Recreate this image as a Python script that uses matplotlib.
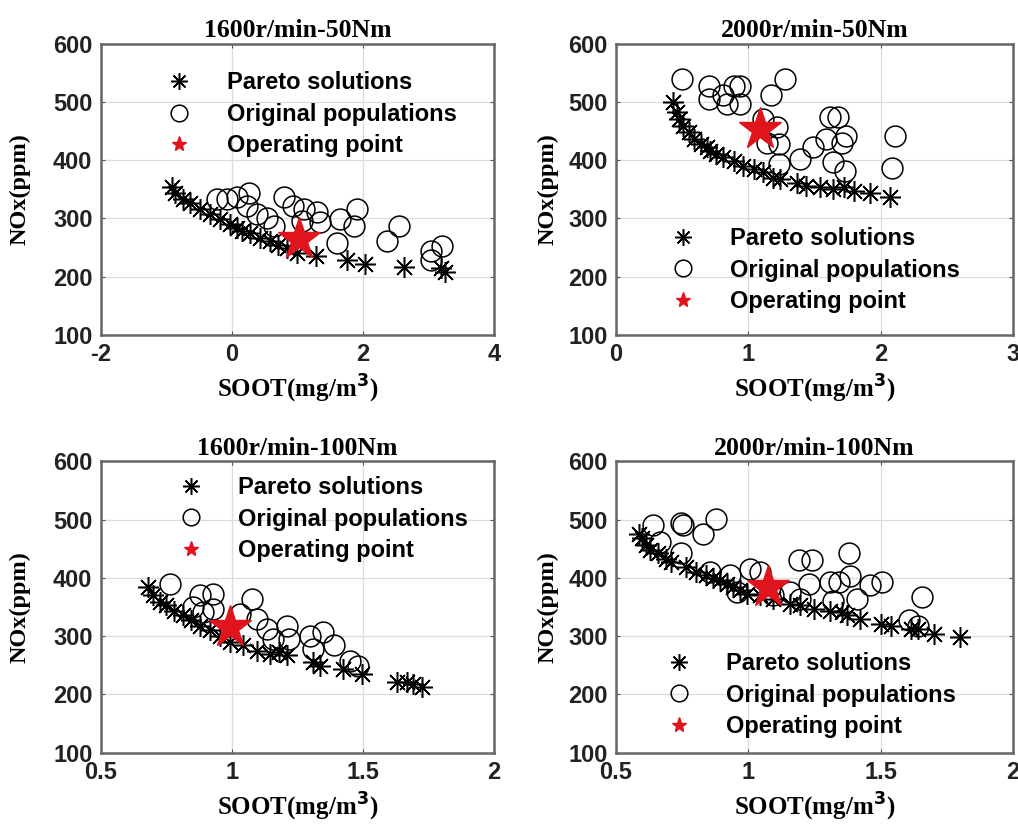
import numpy as np
import matplotlib.pyplot as plt
from matplotlib.lines import Line2D

# ---- data ----
titles = ['1600r/min-50Nm', '2000r/min-50Nm', '1600r/min-100Nm', '2000r/min-100Nm']

# 1600r/min-50Nm
p1_x = [-0.92, -0.87, -0.74, -0.64, -0.48, -0.33, -0.18, -0.03, 0.08, 0.15, 0.28, 0.43,
        0.59, 0.71, 0.84, 0.99, 1.28, 1.76, 2.04, 2.63, 3.20, 3.25]
p1_y = [353, 344, 333, 327, 316, 307, 298, 290, 284, 278, 275, 267,
        261, 255, 249, 241, 235, 229, 221, 217, 214, 208]
o1_x = [-0.23, -0.08, 0.08, 0.26, 0.23, 0.38, 0.54, 0.79, 0.94, 1.10, 1.30, 1.35,
        1.07, 0.64, 1.66, 1.91, 1.86, 1.61, 2.37, 2.55, 3.04, 3.21, 3.04]
o1_y = [333, 333, 336, 344, 321, 307, 301, 336, 321, 316, 310, 293,
        295, 287, 298, 316, 287, 258, 261, 287, 244, 252, 229]
op1 = (1.02, 264)

# 2000r/min-50Nm
p2_x = [0.43, 0.46, 0.48, 0.51, 0.55, 0.59, 0.64, 0.69, 0.71, 0.76, 0.81, 0.89, 0.96,
        1.04, 1.11, 1.19, 1.24, 1.37, 1.44, 1.54, 1.64, 1.72, 1.80, 1.92, 2.07]
p2_y = [499, 482, 471, 459, 448, 436, 428, 422, 416, 410, 405, 399, 390,
        384, 379, 370, 367, 361, 356, 353, 350, 353, 347, 344, 336]
o2_x = [0.50, 0.70, 0.70, 0.81, 0.89, 0.94, 0.84, 0.94, 1.17, 1.28, 1.11, 1.22, 1.14,
        1.23, 1.23, 1.39, 1.49, 1.59, 1.62, 1.68, 1.64, 1.71, 1.74, 1.73, 2.11, 2.09]
o2_y = [540, 528, 505, 511, 528, 528, 497, 497, 511, 540, 471, 456, 430,
        428, 393, 402, 422, 436, 474, 474, 396, 430, 442, 382, 442, 387]
op2 = (1.09, 453)

# 1600r/min-100Nm
p3_x = [0.68, 0.70, 0.725, 0.75, 0.78, 0.815, 0.846, 0.878, 0.917, 0.955, 0.993, 1.044,
        1.095, 1.146, 1.18, 1.21, 1.31, 1.337, 1.426, 1.496, 1.63, 1.668, 1.69, 1.725]
p3_y = [384, 370, 359, 353, 344, 336, 327, 318, 310, 301, 290, 284,
        275, 270, 272, 267, 255, 249, 244, 235, 221, 221, 218, 212]
o3_x = [0.764, 0.878, 0.929, 0.853, 0.891, 1.076, 1.031, 1.095, 1.133, 1.159, 1.21, 1.22,
        1.30, 1.35, 1.39, 1.31, 1.45, 1.48, 0.93]
o3_y = [390, 370, 373, 350, 341, 364, 338, 330, 313, 295, 318, 295,
        301, 307, 284, 278, 258, 249, 347]
op3 = (0.993, 316)

# 2000r/min-100Nm
p4_x = [0.589, 0.60, 0.614, 0.627, 0.658, 0.69, 0.709, 0.766, 0.804, 0.842, 0.867, 0.892,
        0.918, 0.943, 0.968, 0.994, 1.044, 1.095, 1.158, 1.196, 1.247, 1.31, 1.354, 1.373,
        1.424, 1.50, 1.538, 1.614, 1.64, 1.70, 1.80]
p4_y = [476, 468, 456, 448, 442, 433, 428, 419, 410, 405, 399, 396,
        390, 384, 379, 373, 370, 364, 356, 353, 347, 344, 341, 336,
        330, 321, 318, 313, 313, 304, 298]
o4_x = [0.639, 0.665, 0.747, 0.753, 0.829, 0.88, 0.747, 0.854, 0.93, 1.006, 1.044, 1.095,
        1.19, 1.24, 1.228, 1.158, 1.196, 1.31, 1.342, 1.32, 1.38, 1.386, 1.41, 1.46,
        1.506, 1.658, 1.608, 1.64, 0.956]
o4_y = [491, 462, 494, 491, 476, 502, 442, 410, 405, 416, 410, 370,
        430, 430, 390, 376, 364, 393, 393, 361, 442, 404, 364, 387,
        393, 367, 327, 318, 376]
op4 = (1.076, 385)

pareto_x = [p1_x, p2_x, p3_x, p4_x]
pareto_y = [p1_y, p2_y, p3_y, p4_y]
orig_x = [o1_x, o2_x, o3_x, o4_x]
orig_y = [o1_y, o2_y, o3_y, o4_y]
op_pts = [op1, op2, op3, op4]

xlims = [(-2, 4), (0, 3), (0.5, 2), (0.5, 2)]
xticks = [[-2, 0, 2, 4], [0, 1, 2, 3], [0.5, 1, 1.5, 2], [0.5, 1, 1.5, 2]]
xticklabels = [['-2', '0', '2', '4'], ['0', '1', '2', '3'],
               ['0.5', '1', '1.5', '2'], ['0.5', '1', '1.5', '2']]

# axes rectangles (figure fraction) and legend anchors (axes fraction)
rects = [[0.099, 0.601, 0.386, 0.347], [0.605, 0.601, 0.390, 0.347],
         [0.099, 0.103, 0.386, 0.347], [0.605, 0.103, 0.390, 0.347]]
leg_anchor = [(0.14, 0.905), (0.11, 0.37), (0.17, 0.95), (0.10, 0.345)]
ylab_x = [-0.178, -0.144, -0.178, -0.144]

ast = (8, 2, 0)
sans = 'Liberation Sans'
serif = 'Liberation Serif'

fig = plt.figure(figsize=(10.18, 8.39), dpi=100)

for i in range(4):
    ax = fig.add_axes(rects[i])
    ax.plot(pareto_x[i], pareto_y[i], ls='none', marker=ast, ms=15, mew=1.1,
            color='black', zorder=3)
    ax.plot(orig_x[i], orig_y[i], ls='none', marker='o', ms=15, mfc='none',
            mec='black', mew=1.1, zorder=3)
    ax.plot([op_pts[i][0]], [op_pts[i][1]], ls='none', marker='*', ms=32,
            color='#e0141c', zorder=4)

    ax.set_xlim(xlims[i])
    ax.set_ylim(100, 600)
    ax.set_xticks(xticks[i])
    ax.set_xticklabels(xticklabels[i])
    ax.set_yticks([100, 200, 300, 400, 500, 600])
    ax.grid(True, color='#dcdcdc', lw=0.9)
    ax.set_axisbelow(True)
    ax.tick_params(direction='in', length=3, width=0.8, color='#555555',
                   labelsize=17, pad=6, top=True, right=True)
    for lab in ax.get_xticklabels() + ax.get_yticklabels():
        lab.set_fontfamily(sans)
        lab.set_fontweight('bold')
        lab.set_color('#222222')
    for sp in ax.spines.values():
        sp.set_color('#666666')
        sp.set_linewidth(1.8)

    ax.set_title(titles[i], fontfamily=serif, fontweight='bold', fontsize=18.5, pad=5)
    ax.set_xlabel('SOOT(mg/m$^\\mathbf{3}$)', fontfamily=serif, fontweight='bold',
                  fontsize=18, labelpad=5)
    ax.set_ylabel('NOx(ppm)', fontfamily=serif, fontweight='bold', fontsize=17.5)
    ax.yaxis.set_label_coords(ylab_x[i], 0.5)

    handles = [
        Line2D([], [], ls='none', marker=ast, ms=12, mew=1.1, color='black'),
        Line2D([], [], ls='none', marker='o', ms=12, mfc='none', mec='black', mew=1.1),
        Line2D([], [], ls='none', marker='*', ms=11, color='#e0141c'),
    ]
    ax.legend(handles, ['Pareto solutions', 'Original populations', 'Operating point'],
              loc='upper left', bbox_to_anchor=leg_anchor[i], frameon=False,
              borderaxespad=0, borderpad=0, handletextpad=1.0, labelspacing=0.36,
              prop={'family': sans, 'weight': 'bold', 'size': 17})

fig.savefig('out.png', dpi=100, facecolor='white')
